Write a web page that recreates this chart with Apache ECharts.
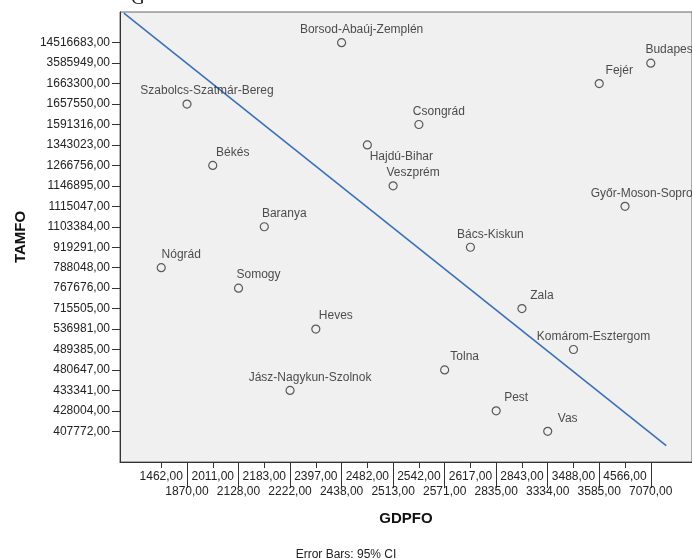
<!DOCTYPE html>
<html>
<head>
<meta charset="utf-8">
<title>TAMFO by GDPFO</title>
<script src="https://cdn.jsdelivr.net/npm/echarts@6/dist/echarts.min.js"></script>
<style>
  html, body { margin: 0; padding: 0; background: #fff; }
  #main { width: 692px; height: 559px; }
</style>
</head>
<body>
<div id="main"></div>
<script>
// axis categories (SPSS treats them as ordered categories)
var gdpCats = [1462, 1870, 2011, 2128, 2183, 2222, 2397, 2438, 2482, 2513,
               2542, 2571, 2617, 2835, 2843, 3334, 3488, 3585, 4566, 7070];
var tamCats = [407772, 428004, 433341, 480647, 489385, 536981, 715505, 767676, 788048, 919291,
               1103384, 1115047, 1146895, 1266756, 1343023, 1591316, 1657550, 1663300, 3585949, 14516683];

// one point per county
var counties = ['Borsod-Abaúj-Zemplén', 'Budapest', 'Fejér', 'Szabolcs-Szatmár-Bereg', 'Csongrád',
                'Hajdú-Bihar', 'Békés', 'Veszprém', 'Győr-Moson-Sopron', 'Baranya',
                'Bács-Kiskun', 'Nógrád', 'Somogy', 'Zala', 'Heves',
                'Komárom-Esztergom', 'Tolna', 'Jász-Nagykun-Szolnok', 'Pest', 'Vas'];
var gdpfo = [2438, 7070, 3585, 1870, 2542, 2482, 2011, 2513, 4566, 2183,
             2617, 1462, 2128, 2843, 2397, 3488, 2571, 2222, 2835, 3334];
var tamfo = [14516683, 3585949, 1663300, 1657550, 1591316, 1343023, 1266756, 1146895, 1115047, 1103384,
             919291, 788048, 767676, 715505, 536981, 489385, 480647, 433341, 428004, 407772];

// fit line ends, in category positions
var fitLine = [[-1.45, 20.45], [19.6, -0.7]];

var font = 'Liberation Sans, Arial, sans-serif';

function fmt(v) {
    return v.toFixed(2).replace('.', ',');
}
function range(n) {
    var a = [];
    for (var i = 0; i < n; i++) a.push(i);
    return a;
}
var allIdx = range(gdpCats.length);
var evenIdx = allIdx.filter(function (i) { return i % 2 === 0; });
var oddIdx = allIdx.filter(function (i) { return i % 2 === 1; });

var points = counties.map(function (name, i) {
    var p = {
        name: name,
        value: [gdpCats.indexOf(gdpfo[i]), tamCats.indexOf(tamfo[i])]
    };
    if (name === 'Hajdú-Bihar') {
        p.label = { offset: [34, 12] };
    }
    return p;
});

var myChart = echarts.init(document.getElementById('main'));

var option = {
    animation: false,
    textStyle: { fontFamily: font },
    title: [
        {
            text: 'G',
            left: 126,
            top: -15,
            textStyle: { fontFamily: 'Liberation Serif, serif', fontSize: 19, fontWeight: 'normal', color: '#222' }
        },
        {
            text: 'Error Bars: 95% CI',
            left: 'center',
            top: 544,
            textStyle: { fontFamily: font, fontSize: 12, fontWeight: 'normal', color: '#222' }
        }
    ],
    grid: {
        left: 120,
        width: 576,
        top: 12,
        height: 450,
        show: true,
        backgroundColor: '#f0f0f0',
        borderColor: '#666',
        borderWidth: 1
    },
    xAxis: [
        {
            type: 'value',
            min: -1.6,
            max: 20.6,
            name: 'GDPFO',
            nameLocation: 'middle',
            nameGap: 49,
            nameTextStyle: { fontFamily: font, fontSize: 15, fontWeight: 'bold', color: '#111' },
            splitLine: { show: false },
            axisLine: { show: true, onZero: false, lineStyle: { color: '#333' } },
            axisTick: { show: true, length: 6, customValues: allIdx, lineStyle: { color: '#333' } },
            axisLabel: {
                customValues: evenIdx,
                margin: 9,
                fontSize: 12,
                color: '#222',
                formatter: function (v) { return fmt(gdpCats[v]); }
            }
        },
        {
            type: 'value',
            position: 'bottom',
            min: -1.6,
            max: 20.6,
            splitLine: { show: false },
            axisLine: { show: false, onZero: false },
            axisTick: { show: true, length: 26, customValues: oddIdx, lineStyle: { color: '#333' } },
            axisLabel: {
                customValues: oddIdx,
                margin: 24,
                fontSize: 12,
                color: '#222',
                formatter: function (v) { return fmt(gdpCats[v]); }
            }
        }
    ],
    yAxis: {
        type: 'value',
        min: -1.5,
        max: 20.5,
        name: 'TAMFO',
        nameLocation: 'middle',
        nameGap: 92,
        nameRotate: 90,
        nameTextStyle: { fontFamily: font, fontSize: 15, fontWeight: 'bold', color: '#111' },
        splitLine: { show: false },
        axisLine: { show: true, onZero: false, lineStyle: { color: '#333' } },
        axisTick: { show: true, length: 8, customValues: range(tamCats.length), lineStyle: { color: '#333' } },
        axisLabel: {
            customValues: range(tamCats.length),
            margin: 10,
            fontSize: 12,
            color: '#222',
            formatter: function (v) { return fmt(tamCats[v]); }
        }
    },
    series: [
        {
            type: 'line',
            data: fitLine,
            symbol: 'none',
            lineStyle: { color: '#3a70b8', width: 1.6 },
            silent: true,
            z: 1
        },
        {
            type: 'scatter',
            data: points,
            symbol: 'circle',
            symbolSize: 8,
            itemStyle: { color: 'rgba(0,0,0,0)', borderColor: '#333', borderWidth: 1.2 },
            label: {
                show: true,
                position: 'inside',
                offset: [20, -13],
                formatter: '{b}',
                fontFamily: font,
                fontSize: 12,
                color: '#222'
            },
            z: 2
        }
    ]
};

myChart.setOption(option);
</script>
</body>
</html>
